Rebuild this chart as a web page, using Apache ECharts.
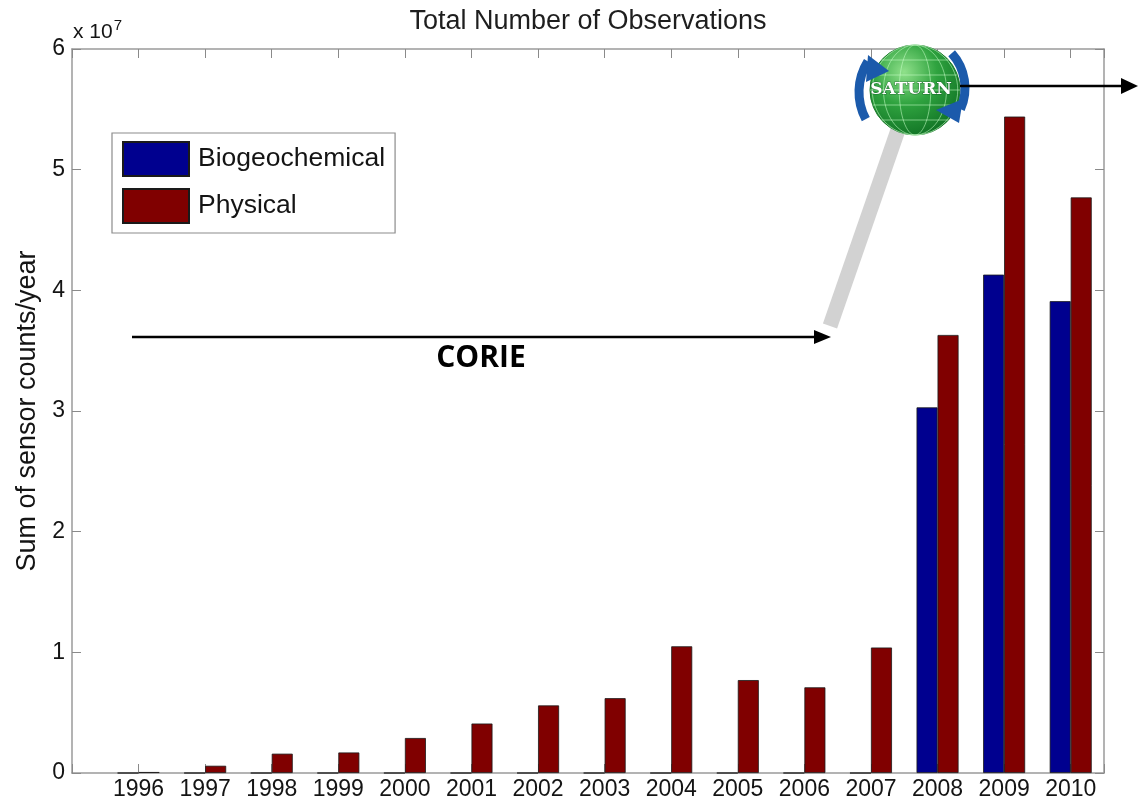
<!DOCTYPE html>
<html>
<head>
<meta charset="utf-8">
<script src="https://cdn.jsdelivr.net/npm/echarts@6/dist/echarts.min.js"></script>
<style>
html,body{margin:0;padding:0;background:#fff;}
#chart{width:1140px;height:807px;}
</style>
</head>
<body>
<div id="chart"></div>
<script>
// Data (values in units of 10^7 sensor counts/year)
const years = [1996,1997,1998,1999,2000,2001,2002,2003,2004,2005,2006,2007,2008,2009,2010];
const biogeochemical = [0,0,0,0,0,0,0,0,0,0,0,0,3.03,4.13,3.91];
const physical = [0.008,0.06,0.16,0.17,0.29,0.41,0.56,0.62,1.05,0.77,0.71,1.04,3.63,5.44,4.77];
const seriesNames = ['Biogeochemical','Physical'];
const yTickMin = 0, yTickMax = 6, yTickStep = 1;
const xMin = 1995, xMax = 2010.5;

const FONT = '"Liberation Sans", Arial, Helvetica, sans-serif';
const TXT = '#141414';
const AX = '#9a9a9a';

const chart = echarts.init(document.getElementById('chart'), null, {renderer:'canvas'});

const axisCommon = {
  axisLine:{show:true, onZero:false, lineStyle:{color:AX, width:1.5}},
  axisTick:{show:true, inside:true, length:9, lineStyle:{color:'#8a8a8a', width:1}},
  splitLine:{show:false}
};

const yearLabel = v => (Number.isInteger(v) && years.indexOf(v) >= 0) ? String(v) : '';

// Sphere grid decoration
const cx = 915, cy = 90, R = 45;
const deco = [];
deco.push({type:'circle', shape:{cx:cx, cy:cy, r:R}, z:10,
  style:{fill:new echarts.graphic.RadialGradient(0.38,0.3,0.8,[
    {offset:0,color:'#8fe08a'},{offset:0.45,color:'#2fa33f'},{offset:1,color:'#0b6a20'}]),
    stroke:'#1d7a2c', lineWidth:1}});
[0.35,0.7,0.95].forEach(f => deco.push({type:'ellipse', z:11, shape:{cx:cx, cy:cy, rx:R*f, ry:R},
  style:{fill:null, stroke:'rgba(200,255,200,0.55)', lineWidth:1}}));
[-30,-15,0,15,30].forEach(d => { const hw = Math.sqrt(R*R-d*d); deco.push({type:'line', z:11,
  shape:{x1:cx-hw, y1:cy+d, x2:cx+hw, y2:cy+d}, style:{stroke:'rgba(200,255,200,0.55)', lineWidth:1}}); });

const option = {
  backgroundColor:'#fff',
  animation:false,
  title:{text:'Total Number of Observations', left:588, top:8, textAlign:'center', padding:0,
    textStyle:{fontFamily:FONT, fontSize:27, fontWeight:'normal', color:'#1e1e1e'}},
  legend:{
    data:seriesNames, orient:'vertical', left:112, top:133,
    itemWidth:66, itemHeight:34, itemGap:11, icon:'rect',
    padding:[8,10,9,10], borderColor:'#8c8c8c', borderWidth:1.2, backgroundColor:'#fff',
    textStyle:{fontFamily:FONT, fontSize:26.5, color:TXT, padding:[0,0,0,4]}
  },
  grid:{left:72, right:36, top:49, bottom:34, containLabel:false},
  xAxis:[
    Object.assign({type:'value', position:'bottom', min:xMin, max:xMax, interval:1,
      axisLabel:{formatter:yearLabel, fontFamily:FONT, fontSize:23, color:TXT, margin:5}}, axisCommon),
    Object.assign({type:'value', position:'top', min:xMin, max:xMax, interval:1,
      axisLabel:{show:false}}, axisCommon)
  ],
  yAxis:[
    Object.assign({type:'value', position:'left', min:yTickMin, max:yTickMax, interval:yTickStep,
      name:'Sum of sensor counts/year', nameLocation:'middle', nameGap:27,
      nameTextStyle:{fontFamily:FONT, fontSize:27, color:TXT},
      axisLabel:{fontFamily:FONT, fontSize:23, color:TXT, margin:7}}, axisCommon),
    Object.assign({type:'value', position:'right', min:yTickMin, max:yTickMax, interval:yTickStep,
      axisLabel:{show:false}}, axisCommon)
  ],
  series:[
    {name:seriesNames[0], type:'bar', xAxisIndex:0, yAxisIndex:0, barWidth:21, barGap:'0%',
      data:years.map((y,i)=>[y, biogeochemical[i]]),
      itemStyle:{color:'#00008f', borderColor:'#1a1a1a', borderWidth:0.8}},
    {name:seriesNames[1], type:'bar', xAxisIndex:0, yAxisIndex:0, barWidth:21, barGap:'0%',
      data:years.map((y,i)=>[y, physical[i]]),
      itemStyle:{color:'#800000', borderColor:'#1a1a1a', borderWidth:0.8}}
  ],
  graphic:[
    // x 10^7 exponent label
    {type:'text', left:73, top:18, z:20, style:{text:'x 10{s|7}', fontFamily:FONT, fontSize:21, fill:TXT,
      rich:{s:{fontFamily:FONT, fontSize:15, fill:TXT, verticalAlign:'top', padding:[0,0,14,1]}}}},
    // CORIE arrow
    {type:'line', z:20, shape:{x1:132, y1:337, x2:818, y2:337}, style:{stroke:'#000', lineWidth:2.5}},
    {type:'polygon', z:20, shape:{points:[[814,330],[831,337],[814,344]]}, style:{fill:'#000'}},
    {type:'text', z:20, x:481, y:358, style:{text:'CORIE', fontFamily:'"Open Sans", sans-serif', fontWeight:'bold',
      fontSize:30, fill:'#000', align:'center', verticalAlign:'middle'}},
    // grey connector band
    {type:'line', z:9, shape:{x1:898, y1:130, x2:830, y2:326}, style:{stroke:'#d2d2d2', lineWidth:15, lineCap:'butt'}},
    // SATURN outgoing arrow
    {type:'line', z:20, shape:{x1:960, y1:86, x2:1124, y2:86}, style:{stroke:'#000', lineWidth:2.5}},
    {type:'polygon', z:20, shape:{points:[[1121,78],[1138,86],[1121,94]]}, style:{fill:'#000'}},
  ].concat(deco).concat([
    // blue rotation arrows
    {type:'arc', z:12, shape:{cx:917, cy:92, r:58, startAngle:152*Math.PI/180, endAngle:212*Math.PI/180, clockwise:true},
      style:{stroke:'#1b5aab', lineWidth:9, fill:null}},
    {type:'polygon', z:12, shape:{points:[[868,55],[889,71],[866,82]]}, style:{fill:'#1b5aab'}},
    {type:'arc', z:12, shape:{cx:913, cy:88, r:52, startAngle:-42*Math.PI/180, endAngle:24*Math.PI/180, clockwise:true},
      style:{stroke:'#1b5aab', lineWidth:9, fill:null}},
    {type:'polygon', z:12, shape:{points:[[963,99],[959,123],[936,110]]}, style:{fill:'#1b5aab'}},
    {type:'text', z:13, x:911, y:90, style:{text:'SATURN', fontFamily:'"DejaVu Serif", "Liberation Serif", serif',
      fontWeight:'bold', fontSize:17, fill:'#fff', align:'center', verticalAlign:'middle',
      stroke:'rgba(10,60,30,0.5)', lineWidth:1}}
  ])
};
chart.setOption(option);
</script>
</body>
</html>
